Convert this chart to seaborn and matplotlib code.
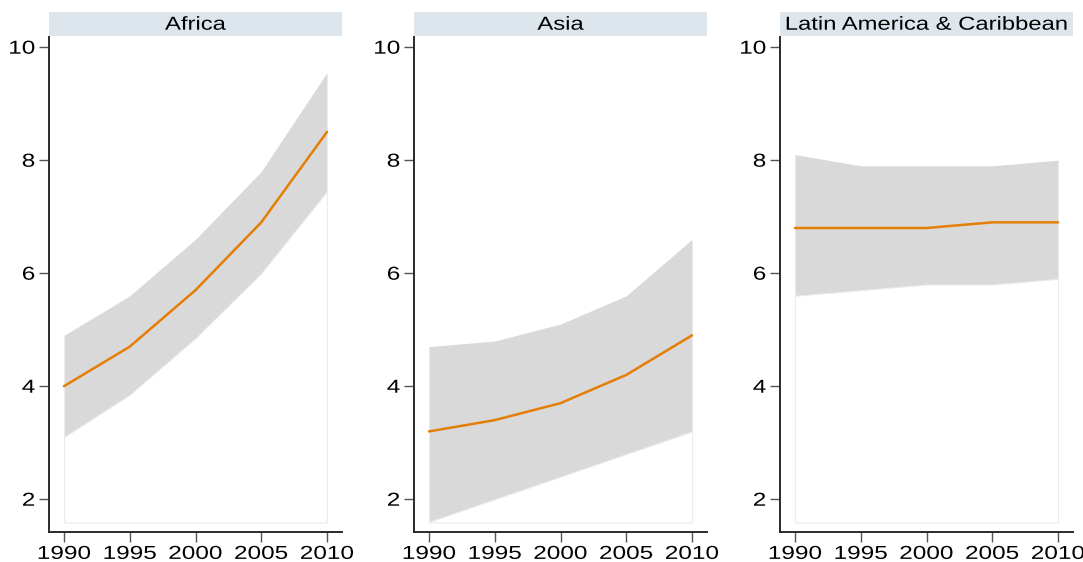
import matplotlib
matplotlib.use("Agg")
import matplotlib.pyplot as plt
import matplotlib.patheffects as pe
from matplotlib.transforms import Affine2D
import seaborn as sns
import pandas as pd

years = [1990, 1995, 2000, 2005, 2010]
regions = ["Africa", "Asia", "Latin America & Caribbean"]

africa_mid = [4.0, 4.7, 5.7, 6.9, 8.5]
africa_hi = [4.9, 5.6, 6.6, 7.8, 9.55]
africa_lo = [3.1, 3.85, 4.85, 6.0, 7.45]

asia_mid = [3.2, 3.4, 3.7, 4.2, 4.9]
asia_hi = [4.7, 4.8, 5.1, 5.6, 6.6]
asia_lo = [1.6, 2.0, 2.4, 2.8, 3.2]

latam_mid = [6.8, 6.8, 6.8, 6.9, 6.9]
latam_hi = [8.1, 7.9, 7.9, 7.9, 8.0]
latam_lo = [5.6, 5.7, 5.8, 5.8, 5.9]

yticks = [2, 4, 6, 8, 10]

frames = []
for name, mid, hi, lo in [
    ("Africa", africa_mid, africa_hi, africa_lo),
    ("Asia", asia_mid, asia_hi, asia_lo),
    ("Latin America & Caribbean", latam_mid, latam_hi, latam_lo),
]:
    frames.append(pd.DataFrame({"region": name, "year": years,
                                "mid": mid, "hi": hi, "lo": lo}))
df = pd.concat(frames, ignore_index=True)


class WideText(pe.AbstractPathEffect):
    """Draw text glyphs stretched horizontally around their anchor."""

    def __init__(self, sx=1.28, ha="center"):
        super().__init__()
        self.sx = sx
        self.ha = ha

    def draw_path(self, renderer, gc, tpath, affine, rgbFace=None):
        ext = tpath.get_extents(affine)
        if self.ha == "right":
            cx = ext.x1
        elif self.ha == "left":
            cx = ext.x0
        else:
            cx = 0.5 * (ext.x0 + ext.x1)
        stretch = Affine2D().translate(-cx, 0).scale(self.sx, 1).translate(cx, 0)
        renderer.draw_path(gc, tpath, affine + stretch, rgbFace)


sns.set_theme(style="ticks")
plt.rcParams["font.family"] = ["Liberation Sans", "DejaVu Sans"]

fig = plt.figure(figsize=(10.83, 5.62), dpi=100)
W, H = 1083, 562
lefts = [49, 414, 780]
width = 293
top_px, bot_px = 37, 532
base = 1.59
line_color = "#E57E07"
band_color = "#D9D9D9"
strip_color = "#DCE6EC"
spine_color = "#2A2A2A"
fs = 13.5

for left, region in zip(lefts, regions):
    ax = fig.add_axes([left / W, 1 - bot_px / H, width / W, (bot_px - top_px) / H])
    sub = df[df["region"] == region]
    # grey band from the upper bound down, then white area under the lower bound
    ax.fill_between(sub["year"], base, sub["hi"], color=band_color,
                    linewidth=0, zorder=1)
    ax.fill_between(sub["year"], base, sub["lo"], facecolor="white",
                    edgecolor="#EBEBEB", linewidth=0.8, zorder=2)
    sns.lineplot(data=sub, x="year", y="mid", ax=ax, color=line_color,
                 linewidth=1.8, zorder=3)
    ax.set_xlim(1988.86, 2011.14)
    ax.set_ylim(1.42, 10.18)
    ax.set_xticks(years)
    ax.set_yticks(yticks)
    ax.set_xticklabels([str(y) for y in years])
    ax.set_yticklabels([str(v) for v in yticks])
    ax.set_xlabel("")
    ax.set_ylabel("")
    for s in ["top", "right"]:
        ax.spines[s].set_visible(False)
    for s in ["left", "bottom"]:
        ax.spines[s].set_color(spine_color)
        ax.spines[s].set_linewidth(1.4)
    ax.tick_params(axis="both", colors="#555555", labelcolor="black",
                   length=7, width=1.0, labelsize=fs, pad=3)
    for t in ax.xaxis.get_major_ticks():
        t.label1.set_path_effects([WideText(1.3, "center")])
    for t in ax.yaxis.get_major_ticks():
        t.label1.set_path_effects([WideText(1.3, "right")])
    ax.set_facecolor("white")

    # strip title
    sax = fig.add_axes([left / W, 1 - 36 / H, width / W, 24 / H])
    sax.set_facecolor(strip_color)
    sax.set_xticks([])
    sax.set_yticks([])
    for s in sax.spines.values():
        s.set_visible(False)
    sax.text(0.5, 0.45, region, ha="center", va="center", fontsize=fs,
             color="black", transform=sax.transAxes,
             path_effects=[WideText(1.27, "center")])

fig.savefig("out.png", dpi=100, facecolor="white")
